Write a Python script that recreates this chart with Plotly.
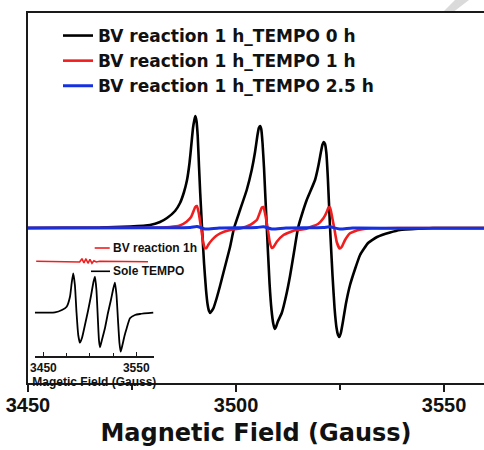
import plotly.graph_objects as go

# ---------------- main spectra (Gauss, arbitrary intensity) ----------------
black_x = [3450.00, 3467.31, 3474.52, 3479.33, 3481.73, 3483.41, 3485.34, 3486.54, 3487.50, 3488.22,
           3488.82, 3489.30, 3489.66, 3489.98, 3490.22, 3490.50, 3490.79, 3491.11, 3491.39, 3491.83,
           3492.31, 3492.79, 3493.15, 3493.51, 3493.82, 3494.16, 3494.59, 3495.36, 3496.15, 3496.95,
           3497.76, 3498.56, 3499.52, 3500.96, 3502.57, 3503.77, 3504.57, 3505.12, 3505.48, 3505.77,
           3506.06, 3506.37, 3506.73, 3507.40, 3508.05, 3508.53, 3508.97, 3509.33, 3509.69, 3510.10,
           3510.99, 3512.02, 3512.98, 3513.94, 3514.90, 3515.87, 3516.99, 3518.99, 3519.83, 3520.36,
           3520.75, 3521.08, 3521.39, 3521.71, 3522.07, 3522.60, 3523.20, 3523.68, 3524.16, 3524.52,
           3524.83, 3525.19, 3525.72, 3526.44, 3527.40, 3528.61, 3529.81, 3531.73, 3533.89, 3537.02,
           3539.42, 3544.23, 3547.36, 3559.62]
black_y = [0, 0.5, 1.5, 3, 6, 10, 17, 25, 36, 48,
           65, 85, 100, 108, 112, 107, 92, 61, 35, 0,
           -35, -62, -76, -83, -85, -83, -80, -70, -58, -45,
           -32, -19, 0, 18, 38, 58, 76, 92, 100, 102,
           99, 85, 60, 0, -55, -82, -96, -101, -98, -93,
           -85, -68, -48, -24, 0, 14, 28, 48, 63, 75,
           83, 86, 84, 75, 50, 0, -48, -80, -100, -107,
           -109, -105, -93, -75, -57, -41, -27, -15, -9, -4.5,
           -2, -0.7, 0, 0]

red_x = [3450.0, 3479.3, 3484.1, 3486.5, 3488.1, 3489.2, 3489.7, 3490.2, 3490.6, 3491.0,
         3491.6, 3492.1, 3492.5, 3492.9, 3493.3, 3494.2, 3495.2, 3496.2, 3498.6, 3501.0,
         3503.4, 3505.0, 3505.8, 3506.2, 3506.6, 3507.0, 3507.6, 3508.1, 3508.6, 3509.0,
         3509.8, 3511.4, 3513.8, 3516.6, 3518.6, 3519.7, 3521.0, 3521.9, 3522.2, 3522.6,
         3523.0, 3523.6, 3524.2, 3524.9, 3525.4, 3526.2, 3527.4, 3529.4, 3532.9, 3539.4,
         3559.6]
red_y = [0, 0.3, 1, 2.5, 6.3, 11, 16, 21, 22, 16,
         0, -14, -20, -20, -17, -12, -8, -5.3, -2, -0.5,
         3, 8, 16.3, 20.5, 21, 14, 0, -14, -20, -19,
         -13.7, -7, -2.7, -1, 2, 4, 9.7, 17, 20.5, 20.5,
         13, 0, -14, -20.5, -19, -12, -5.3, -2, -0.3, 0,
         0]

blue_x = [3450.0, 3480.0, 3489.0, 3490.6, 3492.5, 3496.0, 3505.0, 3506.6, 3508.6, 3512.0,
          3521.0, 3522.5, 3524.9, 3528.0, 3540.0, 3559.6]
blue_y = [0, 0.3, 0.5, 1.5, -1, 0, 0.5, 1.3, -1, 0,
          0.5, 1.2, -1, 0, -0.3, -0.3]

series_names = ["BV reaction 1 h_TEMPO 0 h",
                "BV reaction 1 h_TEMPO 1 h",
                "BV reaction 1 h_TEMPO 2.5 h"]

# ---------------- inset spectra ----------------
inset_black_x = [3440.8, 3462.4, 3469.9, 3475.0, 3478.6, 3480.4, 3482.1, 3483.9, 3485.6, 3487.5,
                 3489.3, 3491.5, 3494.7, 3498.0, 3501.2, 3503.9, 3505.5, 3507.1, 3508.7, 3509.8,
                 3510.9, 3513.0, 3516.3, 3519.5, 3522.7, 3525.4, 3527.0, 3528.7, 3530.3, 3531.9,
                 3533.2, 3535.1, 3537.3, 3539.7, 3543.2, 3548.6, 3554.0, 3568.3]
inset_black_y = [43.0, 43.4, 45.7, 49.0, 59.0, 72.4, 82.4, 70.7, 43.7, 20.7,
                 13.0, 17.7, 30.7, 44.7, 59.7, 73.7, 79.0, 65.7, 35.7, 15.7,
                 8.4, 15.7, 27.7, 42.7, 55.7, 67.7, 73.0, 60.7, 35.7, 12.7,
                 4.0, 10.7, 19.7, 27.4, 37.4, 40.7, 41.7, 43.0]

inset_red_x = [3442.2, 3489.0, 3491.5, 3493.6, 3495.8, 3498.0, 3500.1, 3502.3, 3504.4, 3506.9,
               3510.6, 3562.6]
inset_red_y = [94.4, 93.7, 97.0, 92.7, 97.0, 92.4, 96.4, 92.4, 95.0, 93.7,
               94.4, 94.0]

inset_names = ["BV reaction 1h", "Sole TEMPO"]
inset_tickvals = [3450, 3550]
inset_ticktext = ["3450", "3550"]

# ---------------- figure ----------------
W, H = 484, 450
L, R, T, B = 28, 0, 13, 67
PW, PH = W - L - R, H - T - B


def px(xp):
    return (xp - L) / PW


def py(yp):
    return (H - B - yp) / PH


fig = go.Figure()
fig.add_trace(go.Scatter(x=black_x, y=black_y, mode="lines", name=series_names[0],
                         line=dict(color="#000000", width=2.6, shape="spline", smoothing=0.4)))
fig.add_trace(go.Scatter(x=red_x, y=red_y, mode="lines", name=series_names[1],
                         line=dict(color="#f01e1e", width=2.6, shape="spline", smoothing=0.4)))
fig.add_trace(go.Scatter(x=blue_x, y=blue_y, mode="lines", name=series_names[2],
                         line=dict(color="#1530e0", width=3, shape="spline", smoothing=0.6)))

fig.add_trace(go.Scatter(x=inset_black_x, y=inset_black_y, mode="lines", showlegend=False,
                         xaxis="x2", yaxis="y2",
                         line=dict(color="#000000", width=1.8, shape="spline", smoothing=0.5)))
fig.add_trace(go.Scatter(x=inset_red_x, y=inset_red_y, mode="lines", showlegend=False,
                         xaxis="x2", yaxis="y2",
                         line=dict(color="#f01e1e", width=1.6)))

axis_col = "#1a1a1a"
fig.update_layout(
    width=W, height=H, autosize=False,
    margin=dict(l=L, r=R, t=T, b=B, pad=0),
    paper_bgcolor="white", plot_bgcolor="white",
    showlegend=True,
    legend=dict(x=px(58), y=py(18), xanchor="left", yanchor="top",
                bgcolor="rgba(0,0,0,0)", borderwidth=0,
                font=dict(family="DejaVu Sans", size=17, color="#111", weight="bold")),
    xaxis=dict(domain=[0, 1], range=[3450, 3559.6], showline=True, linecolor=axis_col,
               linewidth=2, mirror=True, ticks="outside", ticklen=7, tickwidth=2,
               tickcolor=axis_col, tick0=3450, dtick=50, ticklabelstandoff=-4,
               minor=dict(ticks="outside", dtick=25, tick0=3450, ticklen=5, tickwidth=2,
                          tickcolor=axis_col, showgrid=False),
               showgrid=False, zeroline=False,
               tickfont=dict(family="Liberation Sans", size=20, color="#111", weight="bold"),
               title=dict(text="Magnetic Field (Gauss)", standoff=9,
                          font=dict(family="DejaVu Sans", size=24, color="#111", weight="bold"))),
    yaxis=dict(domain=[0, 1], range=[-155, 215], showline=True, linecolor=axis_col,
               linewidth=2, ticks="", showticklabels=False, showgrid=False, zeroline=False),
    xaxis2=dict(anchor="y2", domain=[px(34.7), px(154)], range=[3440.6, 3569.1],
                showline=True, linecolor=axis_col, linewidth=1.5,
                ticks="inside", ticklen=4, tickwidth=1.2, tickcolor=axis_col,
                tickvals=inset_tickvals, ticktext=inset_ticktext,
                minor=dict(ticks="inside", dtick=25, tick0=3450, ticklen=3, tickwidth=1.2,
                           tickcolor=axis_col, showgrid=False),
                showgrid=False, zeroline=False,
                tickfont=dict(family="Liberation Sans", size=12, color="#111", weight="bold"),
                title=dict(text="Magetic Field (Gauss)", standoff=0,
                           font=dict(family="Liberation Sans", size=12, color="#111",
                                     weight="bold"))),
    yaxis2=dict(anchor="x2", domain=[py(355.7), py(240)], range=[0, 115.7], visible=False),
)

# inset legend entries
fig.add_shape(type="line", xref="paper", yref="paper", x0=px(94.7), x1=px(109.7),
              y0=py(248), y1=py(248), line=dict(color="#f01e1e", width=1.6))
fig.add_shape(type="line", xref="paper", yref="paper", x0=px(91), x1=px(110),
              y0=py(271.3), y1=py(271.3), line=dict(color="#000000", width=1.6))
fig.add_annotation(text=inset_names[0], xref="paper", yref="paper", x=px(111), y=py(248),
                   xanchor="left", yanchor="middle", showarrow=False,
                   font=dict(family="Liberation Sans", size=12, color="#111", weight="bold"))
fig.add_annotation(text=inset_names[1], xref="paper", yref="paper", x=px(111), y=py(271.3),
                   xanchor="left", yanchor="middle", showarrow=False,
                   font=dict(family="Liberation Sans", size=12, color="#111", weight="bold"))

# faint watermark stroke at the top right
fig.add_shape(type="path", xref="paper", yref="paper", layer="below",
              path=f"M {px(455)},{py(0)} L {px(469)},{py(0)} L {px(452)},{py(13)} L {px(442)},{py(13)} Z",
              fillcolor="#dadada", line=dict(width=0))

fig.write_html("out.html")
